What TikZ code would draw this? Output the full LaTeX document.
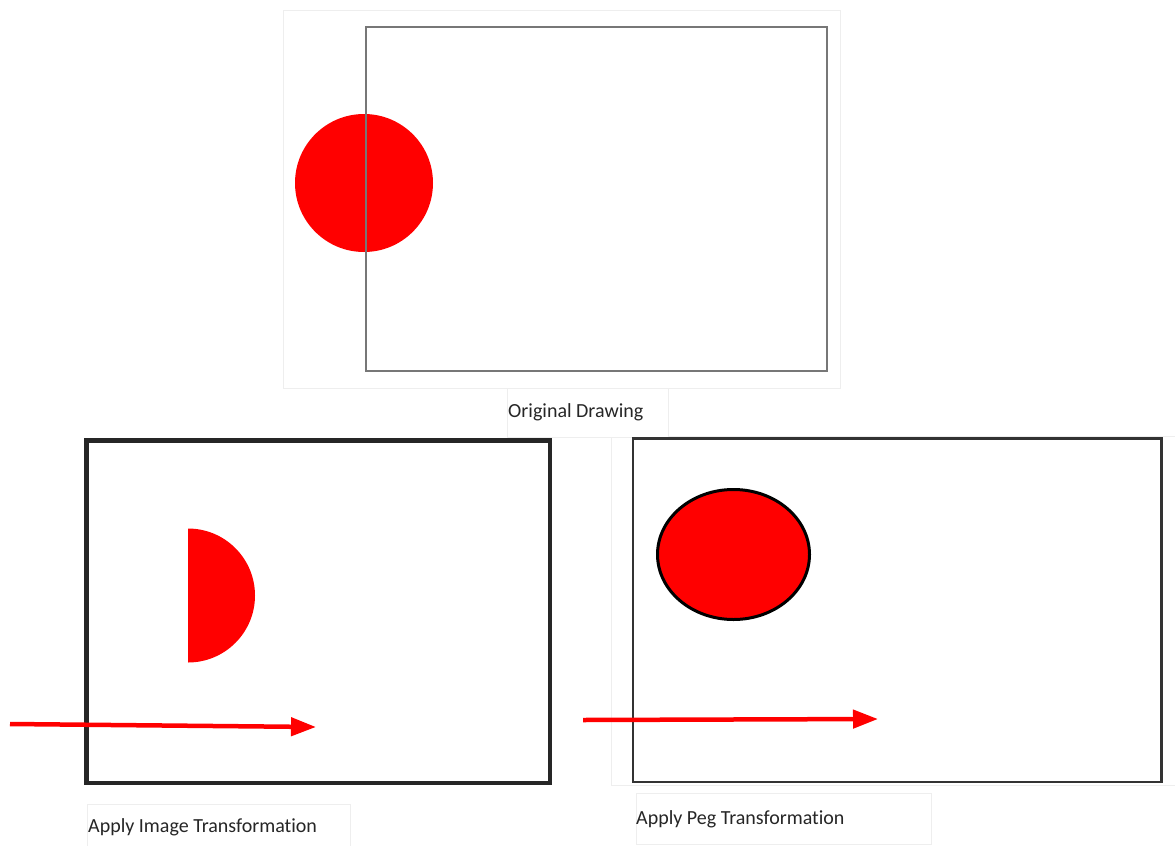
\documentclass[tikz,border=0pt]{standalone}
\usepackage{fontspec}
\setmainfont{Carlito}[Ligatures=NoCommon]
\usetikzlibrary{arrows.meta}
\definecolor{faintgray}{HTML}{EEEEEE}
\definecolor{captext}{HTML}{262626}
\definecolor{topframe}{HTML}{777777}
\definecolor{thickframe}{HTML}{262626}
\definecolor{pegframe}{HTML}{333333}
\definecolor{pure red}{HTML}{FF0000}
\tikzset{
  faint/.style={draw=faintgray, line width=1pt},
  caption/.style={anchor=base west, inner sep=0pt, text=captext, font=\fontsize{20}{24}\selectfont},
  motion/.style={draw=pure red, line width=4.5pt, -{Triangle[length=25pt,width=18pt]}},
}
\begin{document}
\begin{tikzpicture}[x=1pt,y=-1pt]
\useasboundingbox[fill=white] (0,0) rectangle (1175,846);
% faint screenshot frames
\draw[faint] (283,10) rectangle (840,388);
\draw[faint] (507,388) rectangle (668,437);
\draw[faint] (668,436) -- (1175,436);
\draw[faint] (611,437) -- (611,785) -- (1175,785);
\draw[faint] (87,846) -- (87,804) -- (350,804) -- (350,846);
\draw[faint] (636,793) rectangle (931,844);
% original drawing
\fill[pure red] (364,183) circle [radius=69pt];
\draw[topframe, line width=1.6pt] (366,27) rectangle (827,371);
\node[caption] (cap1) at (508,417) {Original Drawing};
% image transformation
\draw[thickframe, line width=4.5pt] (86.5,440.5) rectangle (550,783);
\fill[pure red] (188,528.5) arc[start angle=90, end angle=-90, radius=67pt] -- cycle;
\coordinate (a1s) at (10,724);
\coordinate (a1e) at (316,727);
\draw[motion] (a1s) -- (a1e);
\node[caption] (cap2) at (88,832) {Apply Image Transformation};
% peg transformation
\draw[pegframe, line width=2.5pt] (633,438.5) rectangle (1161.5,782);
\draw[fill=pure red, draw=black, line width=3pt] (733.5,554.5) ellipse [x radius=76pt, y radius=65pt];
\coordinate (a2s) at (583,720);
\coordinate (a2e) at (878,719);
\draw[motion] (a2s) -- (a2e);
\node[caption] (cap3) at (636,824) {Apply Peg Transformation};
\end{tikzpicture}
\end{document}
